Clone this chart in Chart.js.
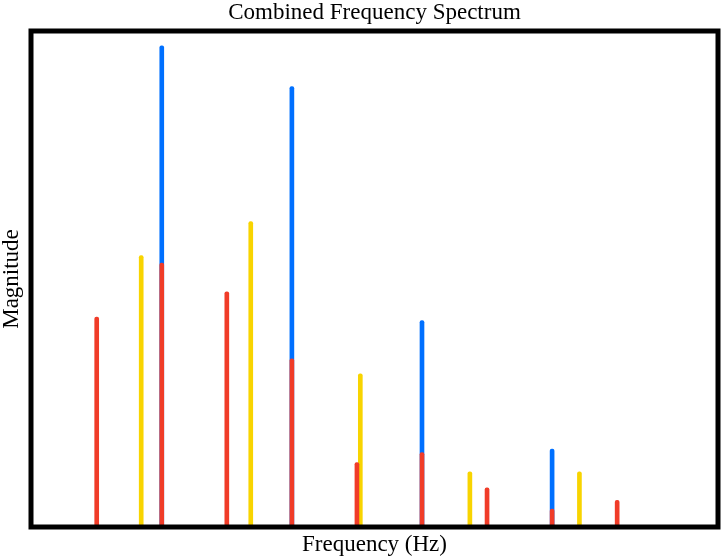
<!DOCTYPE html>
<html>
<head>
<meta charset="utf-8">
<script src="https://cdn.jsdelivr.net/npm/chart.js@4.4.0/dist/chart.umd.min.js"></script>
<style>
  html, body { margin: 0; padding: 0; background: #ffffff; }
  #wrap { width: 721px; height: 558px; }
</style>
</head>
<body>
<div id="wrap"><canvas id="c" width="721" height="558"></canvas></div>
<script>
// ---- data ----
const titleText = 'Combined Frequency Spectrum';
const xLabel = 'Frequency (Hz)';
const yLabel = 'Magnitude';

const redFreqs = [100, 200, 300, 400, 500, 600, 700, 800, 900];
const redMags = [0.423, 0.532, 0.474, 0.339, 0.130, 0.150, 0.079, 0.036, 0.054];

const yellowFreqs = [168.4, 336.8, 505.2, 673.6, 842.0];
const yellowMags = [0.547, 0.616, 0.309, 0.111, 0.111];

const blueFreqs = [200, 400, 600, 800];
const blueMags = [0.970, 0.888, 0.416, 0.157];

const xMin = -1, xMax = 1055;
const yMin = 0, yMax = 1.0;

function pts(fs, ms) { return fs.map((f, i) => ({ x: f, y: ms[i] })); }

const serif = "'Liberation Serif', 'Times New Roman', serif";

const framePlugin = {
  id: 'frame',
  afterDatasetsDraw(chart) {
    const a = chart.chartArea, ctx = chart.ctx;
    ctx.save();
    ctx.strokeStyle = '#000000';
    ctx.lineWidth = 5;
    ctx.lineJoin = 'miter';
    ctx.strokeRect(a.left, a.top, a.right - a.left, a.bottom - a.top);
    ctx.restore();
  }
};

const stemStyle = {
  barThickness: 4,
  grouped: false,
  borderWidth: 0,
  borderSkipped: 'start',
  borderRadius: { topLeft: 2, topRight: 2, bottomLeft: 0, bottomRight: 0 }
};

new Chart(document.getElementById('c'), {
  type: 'bar',
  data: {
    datasets: [
      Object.assign({ label: 'red', data: pts(redFreqs, redMags), backgroundColor: 'rgb(240,60,40)', order: 0 }, stemStyle),
      Object.assign({ label: 'yellow', data: pts(yellowFreqs, yellowMags), backgroundColor: 'rgb(248,212,0)', order: 1 }, stemStyle),
      Object.assign({ label: 'blue', data: pts(blueFreqs, blueMags), backgroundColor: 'rgb(0,112,255)', order: 2 }, stemStyle)
    ]
  },
  options: {
    responsive: false,
    animation: false,
    devicePixelRatio: 1,
    layout: { padding: { left: 31, right: 3, top: 0, bottom: 0 } },
    plugins: {
      legend: { display: false },
      tooltip: { enabled: false },
      title: {
        display: true,
        text: titleText,
        color: '#000000',
        font: { family: serif, size: 23, weight: 'normal', lineHeight: 1.2 },
        padding: { top: -1, bottom: 4.4 }
      }
    },
    scales: {
      x: {
        type: 'linear',
        min: xMin, max: xMax,
        offset: false,
        grid: { display: false, drawTicks: false },
        border: { display: false },
        ticks: { display: false },
        title: {
          display: true,
          text: xLabel,
          color: '#000000',
          font: { family: serif, size: 23, weight: 'normal', lineHeight: 1.2 },
          padding: { top: 4.2, bottom: -0.8 }
        }
      },
      y: {
        type: 'linear',
        min: yMin, max: yMax,
        grid: { display: false, drawTicks: false },
        border: { display: false },
        ticks: { display: false },
        title: {
          display: true,
          text: yLabel,
          color: '#000000',
          font: { family: serif, size: 23, weight: 'normal', lineHeight: 1.2 },
          padding: { top: -32.8, bottom: 5.2 }
        }
      }
    }
  },
  plugins: [framePlugin]
});
</script>
</body>
</html>
